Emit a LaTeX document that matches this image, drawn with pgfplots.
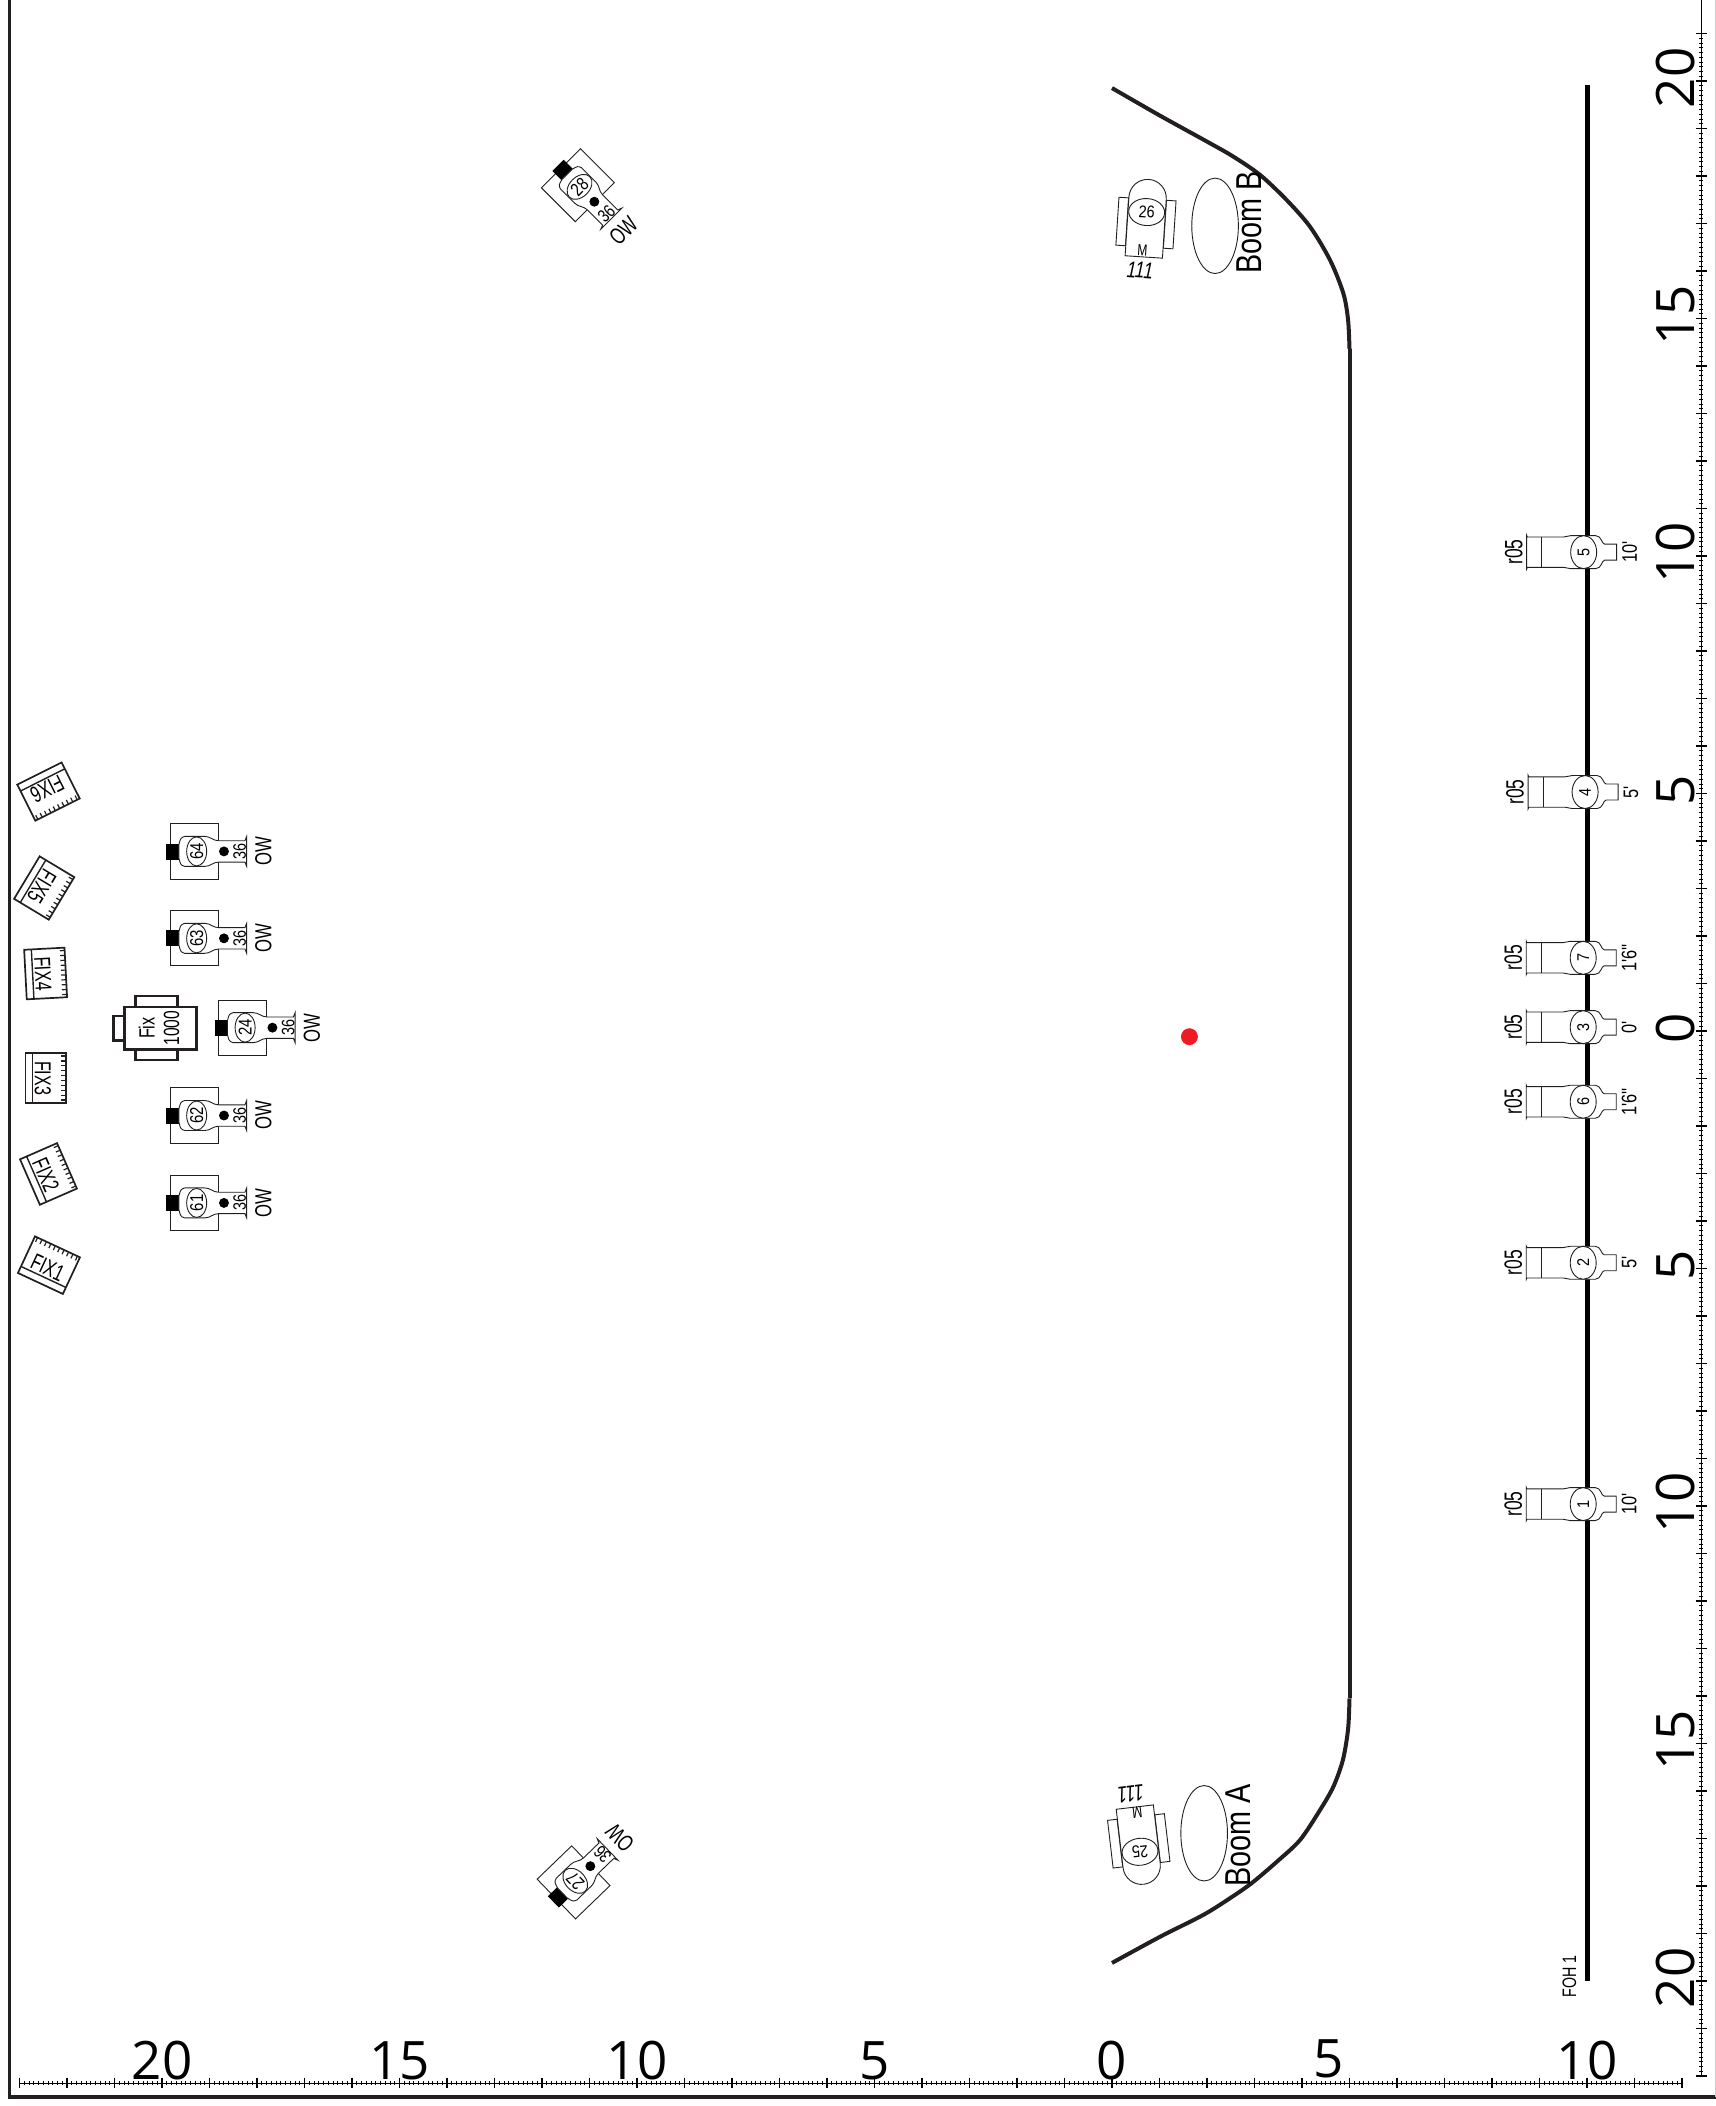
\documentclass[border=0pt]{standalone}
\usepackage{fontspec}
\usepackage{pgfplots}
\pgfplotsset{compat=1.18}
\newfontfamily\lsans{Liberation Sans}
\newfontfamily\rulerfont{Open Sans}
\definecolor{ink}{HTML}{231F20}
\definecolor{reddot}{HTML}{ED1C24}

% all mark shapes are in reference pixels, 1px = 0.5pt
\tikzset{px/.style={x=0.5pt,y=0.5pt}}
\pgfplotsset{sheet/.style={
    at={(0pt,0pt)},
    scale only axis,
    width=858pt,
    height=1053pt,
    xmin=-23.4105,
    xmax=12.7158,
    ymin=-22.6316,
    ymax=21.7053,
    hide axis,
}}

% conventional on the pipe, origin is the lens circle
\pgfdeclareplotmark{foh}{
  \filldraw[px,draw=ink,fill=white,line width=0.45pt]
    (-57,16.8) -- (-56.3,15.2) -- (-20,15.2) .. controls (-17,16.5) .. (-13,16.5)
    -- (12,16.5) .. controls (18,16.5) and (18,8) .. (21,8) -- (33,8) -- (33,-8) -- (21,-8)
    .. controls (18,-8) and (18,-16.5) .. (12,-16.5) -- (-13,-16.5)
    .. controls (-17,-16.5) .. (-20,-15.2) -- (-56.3,-15.2) -- (-57,-16.8) -- cycle;
  \draw[px,draw=ink,line width=0.45pt] (-42,-15.2) -- (-42,15.2);
  \filldraw[px,draw=ink,fill=white,line width=0.45pt] (0,0) ellipse [x radius=13,y radius=16.5];
}
% overhead wash: #1 dot position, #2 end of the barrel
\newcommand\owshape[2]{
  \filldraw[px,draw=ink,fill=white,line width=0.45pt] (-26.3,-27.6) rectangle (21.7,27.6);
  \fill[px,black] (-30,-7.5) rectangle (-17.7,7.5);
  \filldraw[px,draw=ink,fill=white,line width=0.45pt]
    (-17.7,7) .. controls (-16,13.5) .. (-12,15) -- (8,15)
    .. controls (14,15) and (16,10.7) .. (22,10.7) -- (#2-1.7,10.7) -- (#2,15) -- (#2,-15) -- (#2-1.7,-10.7) -- (22,-10.7)
    .. controls (16,-10.7) and (14,-15) .. (8,-15) -- (-12,-15) .. controls (-16,-13.5) .. (-17.7,-7) -- cycle;
  \filldraw[px,draw=ink,fill=white,line width=0.45pt] (0,0) ellipse [x radius=10,y radius=14.5];
  \fill[px,black] (#1,0) circle (4.5);
}
\pgfdeclareplotmark{owlight}{\owshape{27.3}{50}}
\pgfdeclareplotmark{owdiag}{\owshape{21}{45}}
% boom fixture, arc end up
\pgfdeclareplotmark{boomlight}{
  \filldraw[px,draw=ink,fill=white,line width=0.45pt] (-28.6,-35) rectangle (-19,13);
  \filldraw[px,draw=ink,fill=white,line width=0.45pt] (19,-35) rectangle (28.6,13);
  \filldraw[px,draw=ink,fill=white,line width=0.45pt]
    (-18.7,-45) -- (18.7,-45) -- (18.7,14) arc [start angle=0,end angle=180,radius=18.7] -- cycle;
  \filldraw[px,draw=ink,fill=white,line width=0.45pt] (0,0) ellipse [x radius=18,y radius=13.5];
}
\pgfdeclareplotmark{boomoval}{
  \draw[px,draw=ink,line width=0.45pt] (0,0) ellipse [x radius=23.3,y radius=47.7];
}
\pgfdeclareplotmark{bigfix}{
  \filldraw[px,draw=ink,fill=white,line width=1.3pt] (-25,21.3) rectangle (17,32);
  \filldraw[px,draw=ink,fill=white,line width=1.3pt] (-25,-21.3) rectangle (17,-32);
  \filldraw[px,draw=ink,fill=white,line width=1.3pt] (-47,-12.2) rectangle (-35.8,12.2);
  \filldraw[px,draw=ink,fill=white,line width=1.3pt] (-35.8,-21.3) rectangle (35.8,21.3);
}
% small fixture with comb edge, band on the left
\pgfdeclareplotmark{fixbox}{
  \filldraw[px,draw=ink,fill=white,line width=0.85pt] (-20.2,-24.8) rectangle (20.2,24.8);
  \draw[px,draw=ink,line width=0.7pt] (-13,-24.8) -- (-13,24.8);
  \draw[px,draw=ink,line width=0.6pt]
    (15.5,-22) -- (20.2,-22) (15.5,-17.1) -- (20.2,-17.1) (15.5,-12.2) -- (20.2,-12.2)
    (15.5,-7.3) -- (20.2,-7.3) (15.5,-2.4) -- (20.2,-2.4) (15.5,2.4) -- (20.2,2.4)
    (15.5,7.3) -- (20.2,7.3) (15.5,12.2) -- (20.2,12.2) (15.5,17.1) -- (20.2,17.1) (15.5,22) -- (20.2,22);
}

% shapes go in the first axis, texts in a second one on top of them
\newcommand\shapes[1]{#1}
\newcommand\labels[1]{}

% x y theta dx dy rot size xscale text
\newcommand\flabel[9]{
  \path (axis cs:#1,#2) ++({#3}:{(#4)*0.5pt}) ++({(#3)+90}:{(#5)*0.5pt})
    node[rotate={(#3)+(#6)},inner sep=0pt,text=black,font=\lsans\fontsize{#7}{#7}\selectfont]
    {\scalebox{#8}[1]{#9}};
}
\newcommand\fohlight[4]{ % x y number drop
  \shapes{\addplot[only marks,mark=foh] coordinates {(#1,#2)};}
  \labels{
    \flabel{#1}{#2}{0}{0}{0}{90}{8.5}{0.85}{#3}
    \flabel{#1}{#2}{0}{-70}{0}{90}{12.5}{0.7}{r05}
    \flabel{#1}{#2}{0}{46}{0}{90}{10.5}{0.78}{#4}
  }
}
\newcommand\owfixture[4]{ % x y rot number
  \shapes{\addplot[only marks,mark=owlight,mark options={rotate=#3}] coordinates {(#1,#2)};}
  \labels{
    \flabel{#1}{#2}{#3}{0}{0}{90}{9.3}{0.8}{#4}
    \flabel{#1}{#2}{#3}{43}{0}{90}{9}{0.8}{36}
    \flabel{#1}{#2}{#3}{66.7}{0}{90}{11.6}{0.72}{OW}
  }
}
\newcommand\owdiagonal[4]{ % x y rot number
  \shapes{\addplot[only marks,mark=owdiag,mark options={rotate=#3}] coordinates {(#1,#2)};}
  \labels{
    \flabel{#1}{#2}{#3}{0}{0}{90}{9.3}{0.8}{#4}
    \flabel{#1}{#2}{#3}{38}{0}{90}{9}{0.8}{36}
    \flabel{#1}{#2}{#3}{62}{0}{90}{11.6}{0.72}{OW}
  }
}
\newcommand\boomfixture[5]{ % x y rot number, dx of the wattage
  \shapes{\addplot[only marks,mark=boomlight,mark options={rotate=#3}] coordinates {(#1,#2)};}
  \labels{
    \flabel{#1}{#2}{#3}{0}{0}{0}{8.5}{0.85}{#4}
    \flabel{#1}{#2}{#3}{-1.8}{-38.8}{0}{8}{0.75}{M}
    \flabel{#1}{#2}{#3}{#5}{-58.6}{0}{11.5}{0.75}{\textit{111}}
  }
}
\newcommand\fixsmall[4]{ % x y rot name
  \shapes{\addplot[only marks,mark=fixbox,mark options={rotate=#3}] coordinates {(#1,#2)};}
  \labels{\flabel{#1}{#2}{#3}{-2.8}{0}{-90}{11.5}{0.7}{#4}}
}

\newcommand\rig{
  \fohlight{9.93}{10.08}{5}{10'}
  \fohlight{9.96}{5.03}{4}{5'}
  \fohlight{9.92}{1.54}{7}{1'6''}
  \fohlight{9.92}{0.08}{3}{0'}
  \fohlight{9.92}{-1.49}{6}{1'6''}
  \fohlight{9.92}{-4.88}{2}{5'}
  \fohlight{9.92}{-9.96}{1}{10'}

  \owfixture{-19.27}{3.78}{0}{64}
  \owfixture{-19.27}{1.95}{0}{63}
  \owfixture{-18.25}{0.07}{0}{24}
  \owfixture{-19.27}{-1.78}{0}{62}
  \owfixture{-19.27}{-3.62}{0}{61}
  \owdiagonal{-11.21}{17.77}{-45}{28}
  \owdiagonal{-11.3}{-17.89}{44}{27}

  \fixsmall{-22.39}{5.04}{-63.4}{FIX6}
  \fixsmall{-22.48}{3.01}{-31}{FIX5}
  \fixsmall{-22.45}{1.21}{3}{FIX4}
  \fixsmall{-22.45}{-0.99}{0}{FIX3}
  \fixsmall{-22.39}{-3.01}{23.6}{FIX2}
  \fixsmall{-22.38}{-4.93}{65}{FIX1}

  \boomfixture{0.73}{17.24}{-3.7}{26}{-2.9}
  \boomfixture{0.59}{-17.28}{186.7}{25}{2.5}
}

\begin{document}
\begin{tikzpicture}
\path[use as bounding box] (0,0) rectangle (858pt,1053pt);

\begin{axis}[sheet]
% sheet frame
\addplot[ink,line width=1.75pt] coordinates {(-23.21,21.7053) (-23.21,-22.44) (12.7158,-22.44)};
\addplot[black!20,line width=0.5pt] coordinates {(12.70,21.7053) (12.70,-22.44)};

% FOH pipe
\addplot[black,line width=2.5pt] coordinates {(10,19.92) (10,-20)};

% stage edge
\addplot[ink,line width=2pt,smooth] coordinates {
  (0,19.85) (1.01,19.27) (2.06,18.69) (2.55,18.41) (3.12,18.02) (3.68,17.49) (4.17,16.93)
  (4.59,16.23) (4.87,15.53) (4.97,14.97) (5,14.36)};
\addplot[ink,line width=2pt] coordinates {(5,14.36) (5,-14.05)};
\addplot[ink,line width=2pt,smooth] coordinates {
  (5,-14.05) (4.97,-14.7) (4.86,-15.35) (4.66,-15.91) (4.38,-16.4) (3.96,-17.03) (3.47,-17.49)
  (2.94,-17.94) (2.48,-18.26) (1.92,-18.61) (1.01,-19.07) (0,-19.62)};

% centre mark
\addplot[only marks,mark=*,mark size=4pt,color=reddot] coordinates {(1.63,-0.12)};

\rig

\addplot[only marks,mark=bigfix] coordinates {(-20.03,0.06)};
\addplot[only marks,mark=boomoval] coordinates {(2.17,16.95)};
\addplot[only marks,mark=boomoval] coordinates {(1.94,-16.89)};
\end{axis}

\renewcommand\shapes[1]{}
\renewcommand\labels[1]{#1}
\begin{axis}[sheet]
\rig
\path (axis cs:9.63,-19.9) node[rotate=90,inner sep=0pt,text=black,font=\lsans\fontsize{9.75}{9.75}\selectfont]{\scalebox{0.73}[1]{FOH 1}};
\flabel{-20.03}{0.06}{0}{-14}{0}{90}{11}{0.74}{Fix}
\flabel{-20.03}{0.06}{0}{11}{0}{90}{11}{0.71}{1000}
\flabel{2.9}{17.03}{0}{0}{0}{90}{18}{0.8}{Boom B}
\flabel{2.65}{-16.94}{0}{0}{0}{90}{18}{0.8}{Boom A}
\end{axis}

% horizontal ruler, the second 5 sits left of its tick on the sheet
\begin{axis}[
    at={(9.75pt,10.5pt)},
    scale only axis,
    clip=false,
    width=831.25pt,
    height=1pt,
    xmin=-23,xmax=12,ymin=0,ymax=1,
    axis y line=none,
    axis x line*=top,
    tick align=center,
    xtick={-23,...,12},
    xticklabels={,,,20,,,,,15,,,,,10,,,,,5,,,,,0,,,,,,,,,,10,,},
    minor x tick num=9,
    major tick length=5.5pt,
    minor tick length=1.8pt,
    every tick/.style={black,line width=0.7pt},
    minor tick style={black,line width=0.35pt},
    x axis line style={black,line width=0.35pt},
    x tick label style={anchor=south,inner sep=0pt,yshift=-1.5pt,font=\rulerfont\fontsize{26.5}{26.5}\selectfont},
]
\node[anchor=south,inner sep=0pt,yshift=1.5pt+1pt,font=\rulerfont\fontsize{26.5}{26.5}\selectfont] at (axis cs:4.57,1) {5};
\end{axis}

% vertical ruler
\begin{axis}[
    at={(850.5pt,15pt)},
    scale only axis,
    width=1pt,
    height=1038pt,
    ymin=-22,ymax=21.7053,xmin=0,xmax=1,
    axis x line=none,
    axis y line*=left,
    tick align=center,
    ytick={-22,...,21},
    yticklabels={,,20,,,,,15,,,,,10,,,,,5,,,,,0,,,,,5,,,,,10,,,,,15,,,,,20,},
    minor y tick num=9,
    major tick length=5.5pt,
    minor tick length=1.8pt,
    every tick/.style={black,line width=0.7pt},
    minor tick style={black,line width=0.35pt},
    y axis line style={black,line width=0.35pt},
    y tick label style={rotate=90,anchor=south,inner sep=0pt,xshift=1.5pt,font=\rulerfont\fontsize{26.5}{26.5}\selectfont},
]
\end{axis}
\end{tikzpicture}
\end{document}
